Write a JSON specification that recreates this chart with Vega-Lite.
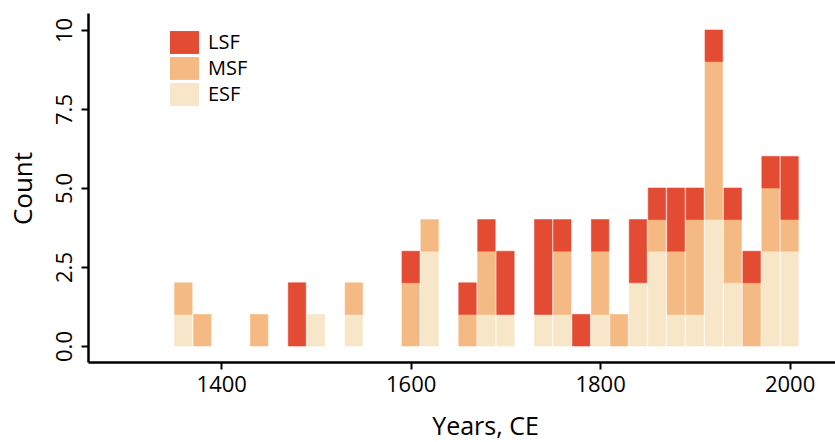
{
  "$schema": "https://vega.github.io/schema/vega-lite/v6.json",
  "width": 747,
  "height": 349,
  "autosize": "none",
  "padding": {"left": 88, "top": 13, "right": 0, "bottom": 80},
  "background": "white",
  "config": {"view": {"stroke": null}, "font": "Open Sans"},
  "data": {"values": [
    {"year": 1360, "type": "ESF", "count": 1}, {"year": 1360, "type": "MSF", "count": 1},
    {"year": 1380, "type": "MSF", "count": 1},
    {"year": 1440, "type": "MSF", "count": 1},
    {"year": 1480, "type": "LSF", "count": 2},
    {"year": 1500, "type": "ESF", "count": 1},
    {"year": 1540, "type": "ESF", "count": 1}, {"year": 1540, "type": "MSF", "count": 1},
    {"year": 1600, "type": "MSF", "count": 2}, {"year": 1600, "type": "LSF", "count": 1},
    {"year": 1620, "type": "ESF", "count": 3}, {"year": 1620, "type": "MSF", "count": 1},
    {"year": 1660, "type": "MSF", "count": 1}, {"year": 1660, "type": "LSF", "count": 1},
    {"year": 1680, "type": "ESF", "count": 1}, {"year": 1680, "type": "MSF", "count": 2}, {"year": 1680, "type": "LSF", "count": 1},
    {"year": 1700, "type": "ESF", "count": 1}, {"year": 1700, "type": "LSF", "count": 2},
    {"year": 1740, "type": "ESF", "count": 1}, {"year": 1740, "type": "LSF", "count": 3},
    {"year": 1760, "type": "ESF", "count": 1}, {"year": 1760, "type": "MSF", "count": 2}, {"year": 1760, "type": "LSF", "count": 1},
    {"year": 1780, "type": "LSF", "count": 1},
    {"year": 1800, "type": "ESF", "count": 1}, {"year": 1800, "type": "MSF", "count": 2}, {"year": 1800, "type": "LSF", "count": 1},
    {"year": 1820, "type": "MSF", "count": 1},
    {"year": 1840, "type": "ESF", "count": 2}, {"year": 1840, "type": "LSF", "count": 2},
    {"year": 1860, "type": "ESF", "count": 3}, {"year": 1860, "type": "MSF", "count": 1}, {"year": 1860, "type": "LSF", "count": 1},
    {"year": 1880, "type": "ESF", "count": 1}, {"year": 1880, "type": "MSF", "count": 2}, {"year": 1880, "type": "LSF", "count": 2},
    {"year": 1900, "type": "ESF", "count": 1}, {"year": 1900, "type": "MSF", "count": 3}, {"year": 1900, "type": "LSF", "count": 1},
    {"year": 1920, "type": "ESF", "count": 4}, {"year": 1920, "type": "MSF", "count": 5}, {"year": 1920, "type": "LSF", "count": 1},
    {"year": 1940, "type": "ESF", "count": 2}, {"year": 1940, "type": "MSF", "count": 2}, {"year": 1940, "type": "LSF", "count": 1},
    {"year": 1960, "type": "MSF", "count": 2}, {"year": 1960, "type": "LSF", "count": 1},
    {"year": 1980, "type": "ESF", "count": 3}, {"year": 1980, "type": "MSF", "count": 2}, {"year": 1980, "type": "LSF", "count": 1},
    {"year": 2000, "type": "ESF", "count": 3}, {"year": 2000, "type": "MSF", "count": 1}, {"year": 2000, "type": "LSF", "count": 2}
  ]},
  "transform": [
    {"calculate": "indexof(['ESF','MSF','LSF'], datum.type)", "as": "stackOrder"}
  ],
  "mark": {"type": "bar", "width": 17.5, "strokeWidth": 0.6},
  "encoding": {
    "x": {
      "field": "year", "type": "quantitative",
      "scale": {"domain": [1264.6, 2042.7], "nice": false, "zero": false},
      "axis": {
        "values": [1400, 1600, 1800, 2000], "format": "d",
        "title": "Years, CE", "grid": false,
        "domainColor": "#000", "domainWidth": 2.5, "tickColor": "#000", "tickWidth": 2, "tickSize": 7,
        "labelFontSize": 22, "labelColor": "#000", "labelPadding": 5, "labelFlush": false,
        "titleFontSize": 25, "titleFontWeight": "normal", "titleColor": "#000",
        "titleBaseline": "alphabetic", "titleAlign": "center", "titleX": 397, "titleY": 72
      }
    },
    "y": {
      "field": "count", "type": "quantitative", "stack": "zero",
      "scale": {"domain": [-0.506, 10.538], "nice": false, "zero": false},
      "axis": {
        "values": [0, 2.5, 5, 7.5, 10],
        "labelExpr": "datum.value == 10 ? '10' : format(datum.value, '.1f')",
        "title": "Count", "grid": false,
        "domainColor": "#000", "domainWidth": 2.5, "tickColor": "#000", "tickWidth": 2, "tickSize": 7,
        "labelFontSize": 22, "labelColor": "#000", "labelAngle": -90, "labelAlign": "center", "labelBaseline": "bottom", "labelPadding": 5, "labelFlush": false,
        "titleFontSize": 26, "titleFontWeight": "normal", "titleColor": "#000",
        "titleAngle": -90, "titleBaseline": "middle", "titleAlign": "center", "titleX": -65, "titleY": 175
      }
    },
    "color": {
      "field": "type", "type": "nominal",
      "scale": {"domain": ["LSF", "MSF", "ESF"], "range": ["#e34b33", "#f5ba83", "#f8e6c8"]},
      "legend": {
        "title": null, "orient": "none", "legendX": 82, "legendY": 15,
        "symbolType": "M-1,-0.79H1V0.79H-1Z", "symbolSize": 841, "symbolStrokeWidth": 0,
        "symbolOpacity": 1,
        "labelFontSize": 20, "labelColor": "#000", "labelOffset": 9, "rowPadding": -4.5, "padding": 0
      }
    },
    "stroke": {
      "field": "type", "type": "nominal",
      "scale": {"domain": ["LSF", "MSF", "ESF"], "range": ["#e34b33", "#f5ba83", "#f8e6c8"]},
      "legend": null
    },
    "order": {"field": "stackOrder", "type": "quantitative"}
  }
}
